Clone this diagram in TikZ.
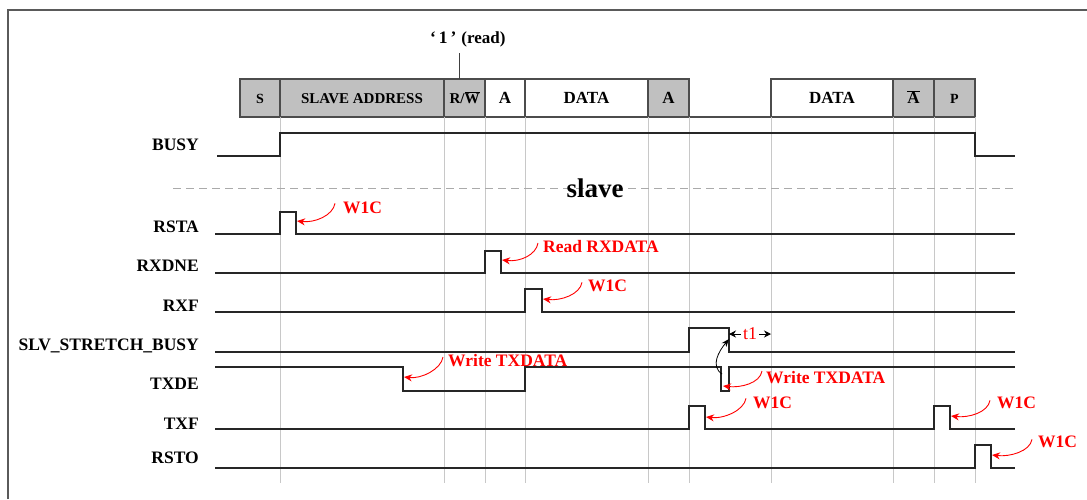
\documentclass[tikz,border=0pt]{standalone}
\usepackage{fontspec}
\setmainfont{Liberation Serif}
\usetikzlibrary{arrows.meta,calc,positioning}
\definecolor{hdr}{RGB}{192,192,192}
\definecolor{gridc}{RGB}{200,200,200}
\definecolor{framec}{RGB}{90,90,90}

\begin{document}
\begin{tikzpicture}[x=1pt,y=-1pt,
  sig/.style={line width=1.1pt,black!85},
  gridl/.style={line width=0.7pt,gridc},
  field/.style={line width=1.3pt,draw=black!70},
  fsm/.style={font=\fontsize{14}{14}\selectfont\bfseries,anchor=base,inner sep=0pt},
  fmd/.style={font=\fontsize{15}{15}\selectfont\bfseries,anchor=base,inner sep=0pt},
  fbg/.style={font=\fontsize{17}{17}\selectfont\bfseries,anchor=base,inner sep=0pt},
  lbl/.style={font=\fontsize{17.5}{17.5}\selectfont\bfseries,anchor=base east,inner sep=0pt},
  note/.style={font=\fontsize{17.5}{17.5}\selectfont\bfseries,text=red,anchor=base west,inner sep=0pt},
  wic/.style={red,line width=0.9pt,-{Stealth[length=8pt,width=7pt]}}]
  \useasboundingbox (0,0) rectangle (1087,499);
  \draw[line width=1.5pt,framec] (8,499) -- (8,10) -- (1087,10);

  % frame fields
  \foreach \a/\b/\t/\c/\s in {240/280/S/hdr/fsm, 280/444/SLAVE ADDRESS/hdr/fmd,
      444/485/{R/$\overline{\mbox{W}}$}/hdr/fmd, 485/525/A/white/fbg, 525/648/DATA/white/fbg,
      648/689/A/hdr/fbg, 771/893/DATA/white/fbg, 893/934/{$\overline{\mbox{A}}$}/hdr/fbg,
      934/975/P/hdr/fsm}{
    \draw[field,fill=\c] (\a,79) rectangle (\b,117);
    \node[\s] (f\a) at ({(\a+\b)/2},103.5) {\t};
  }
  \draw[field] (689,117) -- (771,117);
  \node[anchor=base west,inner sep=0pt,font=\bfseries] (rdbit) at (430,43)
    {{\fontsize{17.5}{17.5}\selectfont ‘\,1\,’}\hspace{5pt}{\fontsize{17}{17}\selectfont (read)}};
  \coordinate (rwtop) at (459,79);
  \draw[line width=0.8pt,black!75] (459,53) -- (rwtop);

  % grid
  \foreach \x in {280,444,485,525,648,689,771,893,934,975}
    \draw[gridl] (\x,117) -- (\x,483);

  % signal names
  \node[lbl] (busy) at (199,150) {BUSY};
  \node[lbl] (rsta) at (199,232) {RSTA};
  \node[lbl] (rxdne) at (199,271) {RXDNE};
  \node[lbl] (rxf) at (199,311) {RXF};
  \node[lbl] (slv) at (199,350) {SLV\_STRETCH\_BUSY};
  \node[lbl] (txde) at (199,389) {TXDE};
  \node[lbl] (txf) at (199,429) {TXF};
  \node[lbl] (rsto) at (199,463) {RSTO};

  % waves
  \draw[sig] (217,156) -- (280,156) -- (280,133) -- (975,133) -- (975,156) -- (1015,156);
  \draw[line width=1pt,gridc!85!black,dash pattern=on 8pt off 5pt] (173,188) -- (1015,188);
  \node[font=\fontsize{27}{27}\selectfont\bfseries,anchor=base,inner sep=0pt] (slave) at (595,197) {slave};
  \draw[sig] (215,234) -- (280,234) -- (280,212) -- (296,212) -- (296,234) -- (1015,234);
  \draw[sig] (215,273) -- (485,273) -- (485,251) -- (501,251) -- (501,273) -- (1015,273);
  \draw[sig] (215,312) -- (525,312) -- (525,289) -- (542,289) -- (542,312) -- (1015,312);
  \draw[sig] (215,352) -- (689,352) -- (689,328) -- (729,328) -- (729,352) -- (1015,352);
  \draw[sig] (215,367) -- (403,367) -- (403,391) -- (525,391) -- (525,367) -- (721,367)
    -- (721,391) -- (729,391) -- (729,367) -- (1015,367);
  \draw[sig] (215,429) -- (689,429) -- (689,406) -- (705,406) -- (705,429) -- (934,429)
    -- (934,406) -- (950,406) -- (950,429) -- (1015,429);
  \draw[sig] (215,468) -- (975,468) -- (975,445) -- (991,445) -- (991,468) -- (1015,468);

  % edges
  \coordinate (e1) at (297,221);
  \coordinate (e2) at (502,260);
  \coordinate (e3) at (543,299);
  \coordinate (e4) at (404,377);
  \coordinate (e5) at (723,386);
  \coordinate (e6) at (706,417);
  \coordinate (e7) at (951,416);
  \coordinate (e8) at (992,455);

  % notes
  \node[note] (n1) at (343,213) {W1C};
  \node[note] (n2) at (543,252) {Read RXDATA};
  \node[note] (n3) at (588,291) {W1C};
  \node[note] (n4) at (448,366) {Write TXDATA};
  \node[note] (n5) at (766,383) {Write TXDATA};
  \node[note] (n6) at (753,408) {W1C};
  \node[note] (n7) at (997,408) {W1C};
  \node[note] (n8) at (1038,447) {W1C};
  \draw[wic] ([xshift=-8pt,yshift=4pt]n1.west) .. controls +(-2,12) and +(18,2) .. (e1);
  \draw[wic] ([xshift=-5pt,yshift=3pt]n2.west) .. controls +(-2,12) and +(18,2) .. (e2);
  \draw[wic] ([xshift=-6pt,yshift=3pt]n3.west) .. controls +(-2,12) and +(18,2) .. (e3);
  \draw[wic] ([xshift=-5pt,yshift=3pt]n4.west) .. controls +(-2,12) and +(18,2) .. (e4);
  \draw[wic] ([xshift=-4pt,yshift=6pt]n5.west) .. controls +(-2,12) and +(18,2) .. (e5);
  \draw[wic] ([xshift=-7pt,yshift=4pt]n6.west) .. controls +(-2,12) and +(18,2) .. (e6);
  \draw[wic] ([xshift=-7pt,yshift=2pt]n7.west) .. controls +(-2,12) and +(18,2) .. (e7);
  \draw[wic] ([xshift=-6pt,yshift=2pt]n8.west) .. controls +(-2,12) and +(18,2) .. (e8);

  % stretch release
  \coordinate (txfall) at (722,374);
  \coordinate (slvfall) at (729,339);
  \draw[line width=0.8pt,-{Stealth[length=8pt,width=6pt]}] (txfall) .. controls +(-12,-8) and +(-10,12) .. (slvfall);
  \coordinate (t1a) at (729,334);
  \coordinate (t1b) at (771,334);
  \draw[line width=0.8pt,{Stealth[length=7pt,width=7pt]}-{Stealth[length=7pt,width=7pt]}] (t1a) -- (t1b)
    node[midway,fill=white,text=red,inner sep=2pt,font=\fontsize{18}{18}\selectfont] (t1) {t1};
\end{tikzpicture}
\end{document}
